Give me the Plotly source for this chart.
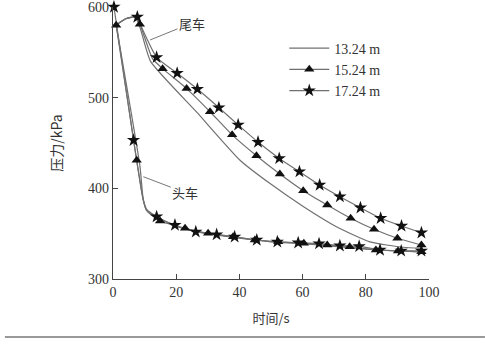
import plotly.graph_objects as go

# ---------------- data ----------------
# 13.24 m  (line only)
tail_1324_t = [1, 4, 7, 8.5, 11.9, 26.5, 40.2, 49.6, 60.2, 70.7, 81.3, 91.8, 97.6]
tail_1324_p = [580, 587, 589, 578, 540, 484, 431, 405.5, 380, 357.7, 341, 335, 334]
head_1324_t = [1, 8.5, 9.6, 10.6, 13.8, 20, 30, 40, 50, 60, 70, 80, 90, 97.6]
head_1324_p = [580, 425, 387, 376, 368, 358, 350, 345, 341, 339, 336, 333, 331, 330]

# 15.24 m  (triangles)
tail_1524_t = [1, 4, 7, 8.5, 12.5, 15.7, 23.3, 30.7, 37.7, 45.4, 52.8, 60.2, 67.8, 75.2, 82.6, 90, 97.6]
tail_1524_p = [580, 587, 589, 581, 543, 532, 510, 484.5, 459, 436, 415.8, 397.4, 381.6, 367, 354.8, 344.9, 337.5]
tail_1524_mt = [1, 8.5, 15.7, 23.3, 30.7, 37.7, 45.4, 52.8, 60.2, 67.8, 75.2, 82.6, 90, 97.6]
tail_1524_mp = [580, 581, 532, 510, 484.5, 459, 436, 415.8, 397.4, 381.6, 367, 354.8, 344.9, 337.5]
head_1524_t = [1, 7.5, 9.6, 10.6, 12, 14.9, 22.8, 30.1, 38, 44.9, 52.3, 60.4, 67.8, 74.9, 83.2, 90.2, 97.6]
head_1524_p = [580, 431, 387, 376, 371, 364, 356, 350.4, 346.7, 343, 341, 339.4, 337.5, 335.6, 332, 331, 330]
head_1524_mt = [7.5, 14.9, 22.8, 30.1, 38, 44.9, 52.3, 60.4, 67.8, 74.9, 83.2, 90.2, 97.6]
head_1524_mp = [431, 364, 356, 350.4, 346.7, 343, 341, 339.4, 337.5, 335.6, 332, 331, 330]

# 17.24 m  (stars)
tail_1724_t = [1, 4, 7.7, 9, 13.8, 20.3, 26.7, 33.5, 39.6, 45.9, 52.6, 59, 65.4, 71.8, 78.3, 84.7, 91.3, 97.6]
tail_1724_p = [580, 587, 589, 578, 544.5, 527, 509.5, 489, 470, 451, 433, 418.4, 403.7, 390.8, 378.6, 367, 358.5, 351]
tail_1724_mt = [7.7, 13.8, 20.3, 26.7, 33.5, 39.6, 45.9, 52.6, 59, 65.4, 71.8, 78.3, 84.7, 91.3, 97.6]
tail_1724_mp = [589, 544.5, 527, 509.5, 489, 470, 451, 433, 418.4, 403.7, 390.8, 378.6, 367, 358.5, 351]
head_1724_t = [0.3, 6.5, 9.4, 10.6, 13.8, 19.6, 26.2, 32.8, 38.5, 45.5, 52, 58.6, 65.2, 71.8, 77.9, 84.5, 91.2, 97.6]
head_1724_p = [600, 453, 390, 377, 368.7, 359.5, 352, 349, 346.5, 343, 341, 340, 339, 336.7, 336, 332, 331, 331]
head_1724_mt = [0.3, 6.5, 13.8, 19.6, 26.2, 32.8, 38.5, 45.5, 52, 58.6, 65.2, 71.8, 77.9, 84.5, 91.2, 97.6]
head_1724_mp = [600, 453, 368.7, 359.5, 352, 349, 346.5, 343, 341, 340, 339, 336.7, 336, 332, 331, 331]

series_names = ["13.24 m", "15.24 m", "17.24 m"]
x_ticks = [0, 20, 40, 60, 80, 100]
y_ticks = [300, 400, 500, 600]

# ---------------- figure ----------------
LINE = "#707070"
MK = "#111111"
SERIF = "Liberation Serif, Times New Roman, serif"
CJK = "Noto Sans CJK SC, sans-serif"

fig = go.Figure()

def add_line(t, p):
    fig.add_trace(go.Scatter(x=t, y=p, mode="lines", showlegend=False,
                             line=dict(color=LINE, width=1.2, shape="spline", smoothing=0.5),
                             hoverinfo="skip", cliponaxis=False))

def add_markers(t, p, symbol, size):
    fig.add_trace(go.Scatter(x=t, y=p, mode="markers", showlegend=False,
                             marker=dict(symbol=symbol, size=size, color=MK),
                             cliponaxis=False))

for t, p in [(tail_1324_t, tail_1324_p), (head_1324_t, head_1324_p),
             (tail_1524_t, tail_1524_p), (head_1524_t, head_1524_p),
             (tail_1724_t, tail_1724_p), (head_1724_t, head_1724_p)]:
    add_line(t, p)

add_markers(tail_1524_mt, tail_1524_mp, "triangle-up", 9)
add_markers(head_1524_mt, head_1524_mp, "triangle-up", 9)
add_markers(tail_1724_mt, tail_1724_mp, "star", 10)
add_markers(head_1724_mt, head_1724_mp, "star", 10)

# legend entries
fig.add_trace(go.Scatter(x=[None], y=[None], mode="lines", name=series_names[0],
                         line=dict(color=LINE, width=1.2)))
fig.add_trace(go.Scatter(x=[None], y=[None], mode="lines+markers", name=series_names[1],
                         line=dict(color=LINE, width=1.2),
                         marker=dict(symbol="triangle-up", size=9, color=MK)))
fig.add_trace(go.Scatter(x=[None], y=[None], mode="lines+markers", name=series_names[2],
                         line=dict(color=LINE, width=1.2),
                         marker=dict(symbol="star", size=10, color=MK)))

fig.update_layout(
    width=485, height=357,
    margin=dict(l=113, r=56, t=7, b=78),
    paper_bgcolor="white", plot_bgcolor="white",
    showlegend=True,
    legend=dict(x=0.542, y=0.906, xanchor="left", yanchor="top",
                font=dict(family=SERIF, size=14, color="#333"),
                bgcolor="rgba(0,0,0,0)", tracegroupgap=0, itemwidth=40),
    xaxis=dict(range=[0, 100], tickvals=x_ticks, ticks="inside", ticklen=5,
               tickcolor="#444", showline=True, linecolor="#444", linewidth=1.2,
               showgrid=False, zeroline=False, automargin=False,
               ticklabeloverflow="allow",
               tickfont=dict(family=SERIF, size=14, color="#333"),
               title=dict(text="时间/s", font=dict(family=CJK, size=13, color="#333"), standoff=14)),
    yaxis=dict(range=[300, 600], tickvals=y_ticks, ticks="inside", ticklen=5,
               tickcolor="#444", showline=True, linecolor="#444", linewidth=1.2,
               showgrid=False, zeroline=False, automargin=False,
               ticklabeloverflow="allow",
               tickfont=dict(family=SERIF, size=14, color="#333"),
               title=dict(text="压力/kPa", font=dict(family=CJK, size=14, color="#333"), standoff=22)),
)

fig.add_annotation(x=11.7, y=563.6, ax=42, ay=-17, text="尾车", showarrow=True,
                   arrowhead=0, arrowwidth=1, arrowcolor="#777",
                   font=dict(family=CJK, size=13, color="#333"))
fig.add_annotation(x=9.6, y=412.8, ax=42, ay=16, text="头车", showarrow=True,
                   arrowhead=0, arrowwidth=1, arrowcolor="#777",
                   font=dict(family=CJK, size=13, color="#333"))

fig.add_shape(type="line", xref="paper", yref="paper", x0=-0.342, x1=1.177,
              y0=-0.213, y1=-0.213, line=dict(color="#999", width=2))

fig.write_html("out.html", config={"displayModeBar": False},
               post_script="document.body.style.margin='0px';")
